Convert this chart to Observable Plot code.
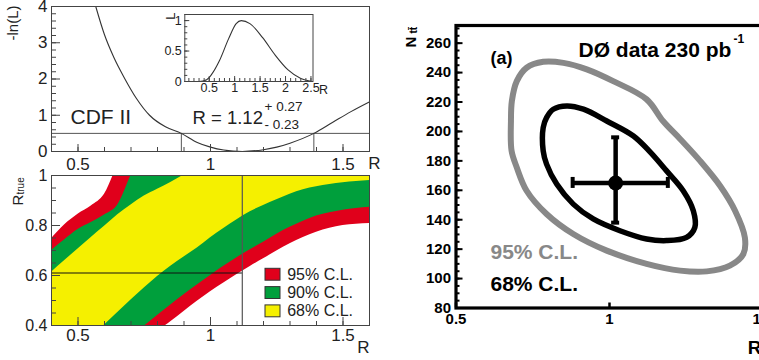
<!DOCTYPE html>
<html><head><meta charset="utf-8">
<script src="https://cdn.jsdelivr.net/npm/d3@7"></script>
<script src="https://cdn.jsdelivr.net/npm/@observablehq/plot@0.6"></script>
<style>
html,body{margin:0;padding:0;background:#fff;overflow:hidden;}
#root{position:relative;width:759px;height:360px;overflow:hidden;}
.p{position:absolute;}
.p svg{overflow:visible;max-width:none !important;}
</style></head><body><div id="root"></div>
<script>
// ---------- data ----------
// -ln(L) scan (CDF)
const nllR = [0.567, 0.60, 0.635, 0.675, 0.72, 0.77, 0.83, 0.89, 0.95, 1.0, 1.05, 1.12, 1.2, 1.25, 1.3, 1.39, 1.46, 1.53, 1.6];
const nllV = [4.0, 3.22, 2.6, 2.03, 1.47, 1.0, 0.68, 0.5, 0.25, 0.12, 0.04, 0.0, 0.05, 0.12, 0.23, 0.5, 0.8, 1.1, 1.37];
// likelihood inset
const likR = [0.02, 0.3, 0.45, 0.55, 0.7, 0.88, 1.03, 1.13, 1.3, 1.55, 1.8, 2.05, 2.3, 2.5, 2.54];
const likV = [0, 0, 0.03, 0.12, 0.34, 0.70, 0.95, 1.0, 0.95, 0.72, 0.43, 0.19, 0.05, 0.005, 0];
const rMeas = 1.12, rLo = 0.89, rHi = 1.39, nllCut = 0.5, rTrueLimit = 0.61;
// confidence belts (R grid, lower/upper edges of R_true)
const beltR = [0.40,0.45,0.50,0.55,0.60,0.65,0.70,0.75,0.80,0.85,0.90,0.95,1.00,1.05,1.10,1.15,1.20,1.25,1.30,1.35,1.40,1.45,1.50,1.55,1.60];
const hi95 = [0.747,0.803,0.845,0.878,0.925,1.04,1.12,1.16,1.2,1.22,1.24,1.26,1.28,1.3,1.3,1.3,1.3,1.3,1.3,1.3,1.3,1.3,1.3,1.3,1.3];
const hi90 = [0.70,0.743,0.784,0.812,0.842,0.882,1.0,1.12,1.18,1.2,1.22,1.24,1.26,1.28,1.3,1.3,1.3,1.3,1.3,1.3,1.3,1.3,1.3,1.3,1.3];
const hi68 = [0.613,0.66,0.706,0.752,0.797,0.843,0.882,0.918,0.945,0.972,1.002,1.03,1.06,1.1,1.14,1.18,1.2,1.22,1.24,1.26,1.28,1.3,1.3,1.3,1.3];
const lo68 = [0.2,0.25,0.3,0.35,0.402,0.452,0.502,0.55,0.596,0.637,0.674,0.71,0.751,0.788,0.823,0.855,0.88,0.903,0.925,0.943,0.955,0.964,0.971,0.976,0.98];
const lo90 = [0.1,0.15,0.2,0.24,0.28,0.32,0.355,0.397,0.44,0.482,0.523,0.562,0.60,0.637,0.671,0.703,0.733,0.765,0.793,0.817,0.838,0.851,0.861,0.868,0.873];
const lo95 = [0.05,0.09,0.13,0.17,0.21,0.25,0.29,0.33,0.376,0.415,0.456,0.497,0.535,0.57,0.604,0.636,0.667,0.698,0.727,0.752,0.773,0.789,0.80,0.805,0.808];
const clLabels = ["95% C.L.", "90% C.L.", "68% C.L."];
const clColors = ["#e0001b", "#009f3c", "#f5f000"];
// D0 contours
const c95R = [0.681,0.679,0.682,0.698,0.730,0.784,0.850,0.926,1.012,1.121,1.175,1.230,1.295,1.360,1.409,1.441,1.436,1.392,1.317,1.230,1.121,0.991,0.882,0.795,0.730,0.698];
const c95N = [186.8,207.1,220.7,234.2,243.3,247.3,246.6,242.2,234.2,221.8,206.9,194.9,180.0,163.1,146.1,127.8,116.7,108.8,104.9,105.4,110.0,119.0,130.3,143.9,159.7,175.5];
const c68R = [0.784,0.784,0.795,0.817,0.861,0.915,0.991,1.078,1.132,1.186,1.240,1.273,1.278,1.251,1.186,1.121,1.034,0.947,0.882,0.828,0.795];
const c68N = [186.8,202.6,209.4,215.1,217.3,215.1,207.1,196.9,186.1,173.2,159.7,146.1,134.8,128.0,125.8,126.9,132.5,140.5,150.6,164.2,177.8];
const d0Point = [{R: 1.02, N: 165, Rlo: 0.88, Rhi: 1.19, Nlo: 138, Nhi: 196}];
// tick labels
const topXLabels = [0.5, 1, 1.5];
const topYLabels = [0, 1, 2, 3, 4];
const insetXLabels = [0.5, 1, 1.5, 2, 2.5];
const insetYLabels = [0, 0.5, 1];
const beltXLabels = [0.5, 1, 1.5];
const beltYLabels = [0.4, 0.6, 0.8, 1];
const d0XLabels = [0.5, 1, 1.5];
const d0YLabels = [80, 100, 120, 140, 160, 180, 200, 220, 240, 260];

// ---------- helpers ----------
const FONT = "'Liberation Sans', Arial, Helvetica, sans-serif";
const root = document.getElementById("root");
function mount(el, left, top, w, h) {
  const d = document.createElement("div");
  d.className = "p"; d.style.left = left + "px"; d.style.top = top + "px";
  d.style.width = w + "px"; d.style.height = h + "px";
  d.appendChild(el); root.appendChild(d);
}
const tx = (vals, len, fh, o = {}) => Plot.tickX(vals, {x: d => d, insetTop: fh - len, ...o});
const ty = (vals, len, fw, o = {}) => Plot.tickY(vals, {y: d => d, insetRight: fw - len, ...o});
const fmt = d => String(d);
const baseStyle = {fontFamily: FONT, fontSize: "16px", color: "#222", background: "transparent", overflow: "visible", maxWidth: "none"};

// ---------- Panel A: -ln(L) ----------
{
  const W = 380, H = 175, mL = 51, mR = 11, mT = 6, mB = 24;
  const fw = W - mL - mR, fh = H - mT - mB;
  const nll = nllR.map((r, i) => ({r, v: nllV[i]}));
  const A = Plot.plot({
    width: W, height: H, marginLeft: mL, marginRight: mR, marginTop: mT, marginBottom: mB,
    x: {domain: [0.4, 1.6]}, y: {domain: [0, 4]}, style: baseStyle,
    marks: [
      Plot.ruleY([nllCut], {stroke: "#555", strokeWidth: 1}),
      Plot.ruleX([rLo, rHi], {y1: 0, y2: nllCut, stroke: "#555", strokeWidth: 1}),
      Plot.line(nll, {x: "r", y: "v", curve: "monotone-x", stroke: "#333", strokeWidth: 1.1, clip: true}),
      tx(d3.range(0.4, 1.6001, 0.1), 4, fh, {stroke: "#444"}),
      tx(topXLabels, 7, fh, {stroke: "#444"}),
      ty(d3.range(0, 4.001, 0.2), 5, fw, {stroke: "#444"}),
      ty(topYLabels, 9, fw, {stroke: "#444"}),
      Plot.frame({stroke: "#444"}),
      Plot.axisX({ticks: topXLabels, tickSize: 0, tickPadding: 6, tickFormat: fmt, label: null, fontSize: 17}),
      Plot.axisY({ticks: topYLabels, tickSize: 0, tickPadding: 4, tickFormat: fmt, label: null, fontSize: 17}),
      Plot.text(["R"], {frameAnchor: "bottom-right", dx: 5, dy: 12, text: d => d, textAnchor: "middle", lineAnchor: "middle", fontSize: 17}),
      Plot.text(["-ln(L)"], {frameAnchor: "top-left", dx: -38, dy: -1, rotate: -90, text: d => d, textAnchor: "end", lineAnchor: "middle", fontSize: 15}),
      Plot.text(["CDF II"], {frameAnchor: "bottom-left", dx: 19, dy: -28, text: d => d, textAnchor: "start", lineAnchor: "bottom", fontSize: 21}),
      Plot.text(["R = 1.12"], {frameAnchor: "bottom-left", dx: 141, dy: -28, text: d => d, textAnchor: "start", lineAnchor: "bottom", fontSize: 18.5}),
      Plot.text(["+ 0.27"], {frameAnchor: "bottom-left", dx: 213, dy: -41, text: d => d, textAnchor: "start", lineAnchor: "bottom", fontSize: 13.5}),
      Plot.text(["- 0.23"], {frameAnchor: "bottom-left", dx: 213, dy: -23, text: d => d, textAnchor: "start", lineAnchor: "bottom", fontSize: 13.5})
    ]
  });
  mount(A, 0, 0, 380, 175);
}

// ---------- Panel B: inset likelihood ----------
{
  const W = 175, H = 100, mL = 34.3, mR = 12.5, mT = 14, mB = 19;
  const fw = W - mL - mR, fh = H - mT - mB;
  const lik = likR.map((r, i) => ({r, v: likV[i]}));
  const B = Plot.plot({
    width: W, height: H, marginLeft: mL, marginRight: mR, marginTop: mT, marginBottom: mB,
    x: {domain: [0.02, 2.54]}, y: {domain: [0, 1.1]}, style: {...baseStyle, fontSize: "13px"},
    marks: [
      Plot.frame({fill: "white"}),
      Plot.line(lik, {x: "r", y: "v", curve: "monotone-x", stroke: "#333", strokeWidth: 1.1, clip: true}),
      tx(d3.range(0.1, 2.5001, 0.1), 3, fh, {stroke: "#444"}),
      tx(insetXLabels, 5, fh, {stroke: "#444"}),
      ty(d3.range(0, 1.1001, 0.1), 3, fw, {stroke: "#444"}),
      ty(insetYLabels, 5, fw, {stroke: "#444"}),
      Plot.frame({stroke: "#444"}),
      Plot.axisX({ticks: insetXLabels, tickSize: 0, tickPadding: 2, tickFormat: fmt, label: null, fontSize: 12.5}),
      Plot.axisY({ticks: insetYLabels, tickSize: 0, tickPadding: 3, tickFormat: fmt, label: null, fontSize: 12.5}),
      Plot.text(["R"], {frameAnchor: "bottom-right", dx: 6, dy: 8, text: d => d, textAnchor: "start", lineAnchor: "middle", fontSize: 12.5}),
      Plot.text(["L"], {frameAnchor: "top-left", dx: -14, dy: -2, rotate: -90, text: d => d, textAnchor: "end", lineAnchor: "middle", fontSize: 13})
    ]
  });
  mount(B, 150, 0, 175, 100);
}

// ---------- Panel C: confidence belts ----------
{
  const W = 380, H = 190, mL = 51, mR = 11, mT = 5, mB = 35;
  const fw = W - mL - mR, fh = H - mT - mB;
  const belt = beltR.map((r, i) => ({r, lo95: lo95[i], lo90: lo90[i], lo68: lo68[i], hi68: hi68[i], hi90: hi90[i], hi95: hi95[i]}));
  const C = Plot.plot({
    width: W, height: H, marginLeft: mL, marginRight: mR, marginTop: mT, marginBottom: mB,
    x: {domain: [0.4, 1.6]}, y: {domain: [0.4, 1.0]}, style: baseStyle,
    marks: [
      Plot.areaY(belt, {x: "r", y1: "lo95", y2: "hi95", fill: clColors[0], curve: "monotone-x", clip: true}),
      Plot.areaY(belt, {x: "r", y1: "lo90", y2: "hi90", fill: clColors[1], curve: "monotone-x", clip: true}),
      Plot.areaY(belt, {x: "r", y1: "lo68", y2: "hi68", fill: clColors[2], curve: "monotone-x", clip: true}),
      Plot.ruleX([rMeas], {stroke: "#555", strokeWidth: 1.2}),
      Plot.ruleY([rTrueLimit], {x1: 0.4, x2: rMeas, stroke: "#111", strokeWidth: 1}),
      tx(d3.range(0.4, 1.6001, 0.1), 4, fh, {stroke: "#444"}),
      tx(beltXLabels, 8, fh, {stroke: "#444"}),
      ty(d3.range(0.4, 1.0001, 0.05), 5, fw, {stroke: "#444"}),
      ty(beltYLabels, 9, fw, {stroke: "#444"}),
      Plot.frame({stroke: "#444"}),
      Plot.axisX({ticks: beltXLabels, tickSize: 0, tickPadding: 3, tickFormat: fmt, label: null, fontSize: 17}),
      Plot.axisY({ticks: beltYLabels, tickSize: 0, tickPadding: 4, tickFormat: fmt, label: null, fontSize: 16}),
      Plot.text(["R"], {frameAnchor: "bottom-right", dx: -6, dy: 22, text: d => d, textAnchor: "middle", lineAnchor: "middle", fontSize: 17}),
      Plot.text(["R"], {frameAnchor: "top-left", dx: -33.5, dy: 30, rotate: -90, text: d => d, textAnchor: "start", lineAnchor: "middle", fontSize: 15}),
      Plot.text(["true"], {frameAnchor: "top-left", dx: -30.5, dy: 19, rotate: -90, text: d => d, textAnchor: "start", lineAnchor: "middle", fontSize: 10})
    ]
  });
  mount(C, 0, 170, 380, 190);
}

// ---------- Panel D: legend for belts ----------
{
  const D = Plot.plot({
    width: 100, height: 60, marginLeft: 3, marginRight: 82, marginTop: 6.3, marginBottom: 5.2,
    x: {type: "band", domain: ["box"], axis: null, padding: 0, round: false},
    y: {type: "band", domain: clLabels, axis: null, paddingInner: 0.35, paddingOuter: 0, round: false},
    color: {domain: clLabels, range: clColors},
    style: baseStyle,
    marks: [
      Plot.cell(clLabels, {x: () => "box", y: d => d, fill: d => d, stroke: "#333", strokeWidth: 1}),
      Plot.text(clLabels, {x: () => "box", y: d => d, text: d => d, dx: 14.2, textAnchor: "start", lineAnchor: "middle", fontSize: 16})
    ]
  });
  mount(D, 262, 262, 100, 60);
}

// ---------- Panel E: D0 contours ----------
{
  const W = 400, H = 360, mL = 55.5, mT = 25, mB = 52.5;
  const mR = W - (mL + 1.1 * 307);
  const fw = W - mL - mR, fh = H - mT - mB;
  const c95 = c95R.map((r, i) => ({r, n: c95N[i]}));
  const c68 = c68R.map((r, i) => ({r, n: c68N[i]}));
  const bold = {fontWeight: "bold"};
  const E = Plot.plot({
    width: W, height: H, marginLeft: mL, marginRight: mR, marginTop: mT, marginBottom: mB,
    x: {domain: [0.5, 1.6]}, y: {domain: [80, 272]},
    style: {...baseStyle, color: "#000"},
    marks: [
      Plot.line(c95, {x: "r", y: "n", curve: "catmull-rom-closed", stroke: "#888", strokeWidth: 6}),
      Plot.line(c68, {x: "r", y: "n", curve: "catmull-rom-closed", stroke: "#000", strokeWidth: 5.5}),
      Plot.ruleY(d0Point, {y: "N", x1: "Rlo", x2: "Rhi", stroke: "#000", strokeWidth: 4.5}),
      Plot.ruleX(d0Point, {x: "R", y1: "Nlo", y2: "Nhi", stroke: "#000", strokeWidth: 4.5}),
      Plot.ruleX(d0Point, {x: "Rlo", y1: "N", y2: "N", insetTop: -5.5, insetBottom: -5.5, stroke: "#000", strokeWidth: 4}),
      Plot.ruleX(d0Point, {x: "Rhi", y1: "N", y2: "N", insetTop: -5.5, insetBottom: -5.5, stroke: "#000", strokeWidth: 4}),
      Plot.ruleY(d0Point, {y: "Nlo", x1: "R", x2: "R", insetLeft: -4, insetRight: -4, stroke: "#000", strokeWidth: 4}),
      Plot.ruleY(d0Point, {y: "Nhi", x1: "R", x2: "R", insetLeft: -4, insetRight: -4, stroke: "#000", strokeWidth: 4}),
      Plot.dot(d0Point, {x: "R", y: "N", r: 7.5, fill: "#000"}),
      tx(d0XLabels, 5, fh, {stroke: "#000", strokeWidth: 2.5}),
      ty(d3.range(80, 272, 5), 4, fw, {stroke: "#000", strokeWidth: 2}),
      ty(d0YLabels, 7, fw, {stroke: "#000", strokeWidth: 2}),
      Plot.frame({stroke: "#000", strokeWidth: 3.2}),
      Plot.axisX({ticks: d0XLabels, tickSize: 0, tickPadding: 5, tickFormat: fmt, label: null, fontSize: 15, ...bold}),
      Plot.axisY({ticks: d0YLabels, tickSize: 0, tickPadding: 5, tickFormat: fmt, label: null, fontSize: 15, ...bold}),
      Plot.text(["R"], {frameAnchor: "bottom-left", dx: 298.5, dy: 45.5, text: d => d, textAnchor: "middle", lineAnchor: "bottom", fontSize: 19, ...bold}),
      Plot.text(["N"], {frameAnchor: "top-left", dx: -45, dy: 22, rotate: -90, text: d => d, textAnchor: "start", lineAnchor: "middle", fontSize: 15, ...bold}),
      Plot.text(["tt\u0304"], {frameAnchor: "top-left", dx: -42, dy: 8, rotate: -90, text: d => d, textAnchor: "start", lineAnchor: "middle", fontSize: 10, ...bold}),
      Plot.text(["(a)"], {frameAnchor: "top-left", dx: 34.5, dy: 38, text: d => d, textAnchor: "start", lineAnchor: "bottom", fontSize: 18, ...bold}),
      Plot.text(["D\u00d8 data 230 pb"], {frameAnchor: "top-left", dx: 122.5, dy: 31.7, text: d => d, textAnchor: "start", lineAnchor: "bottom", fontSize: 21, ...bold}),
      Plot.text(["-1"], {frameAnchor: "top-left", dx: 277.5, dy: 17, text: d => d, textAnchor: "start", lineAnchor: "bottom", fontSize: 12, ...bold}),
      Plot.text(["95% C.L."], {frameAnchor: "top-left", dx: 34.5, dy: 233, text: d => d, textAnchor: "start", lineAnchor: "bottom", fontSize: 21, fill: "#888", ...bold}),
      Plot.text(["68% C.L."], {frameAnchor: "top-left", dx: 34.5, dy: 265, text: d => d, textAnchor: "start", lineAnchor: "bottom", fontSize: 21, fill: "#000", ...bold})
    ]
  });
  mount(E, 400, 0, 400, 360);
}
</script></body></html>
